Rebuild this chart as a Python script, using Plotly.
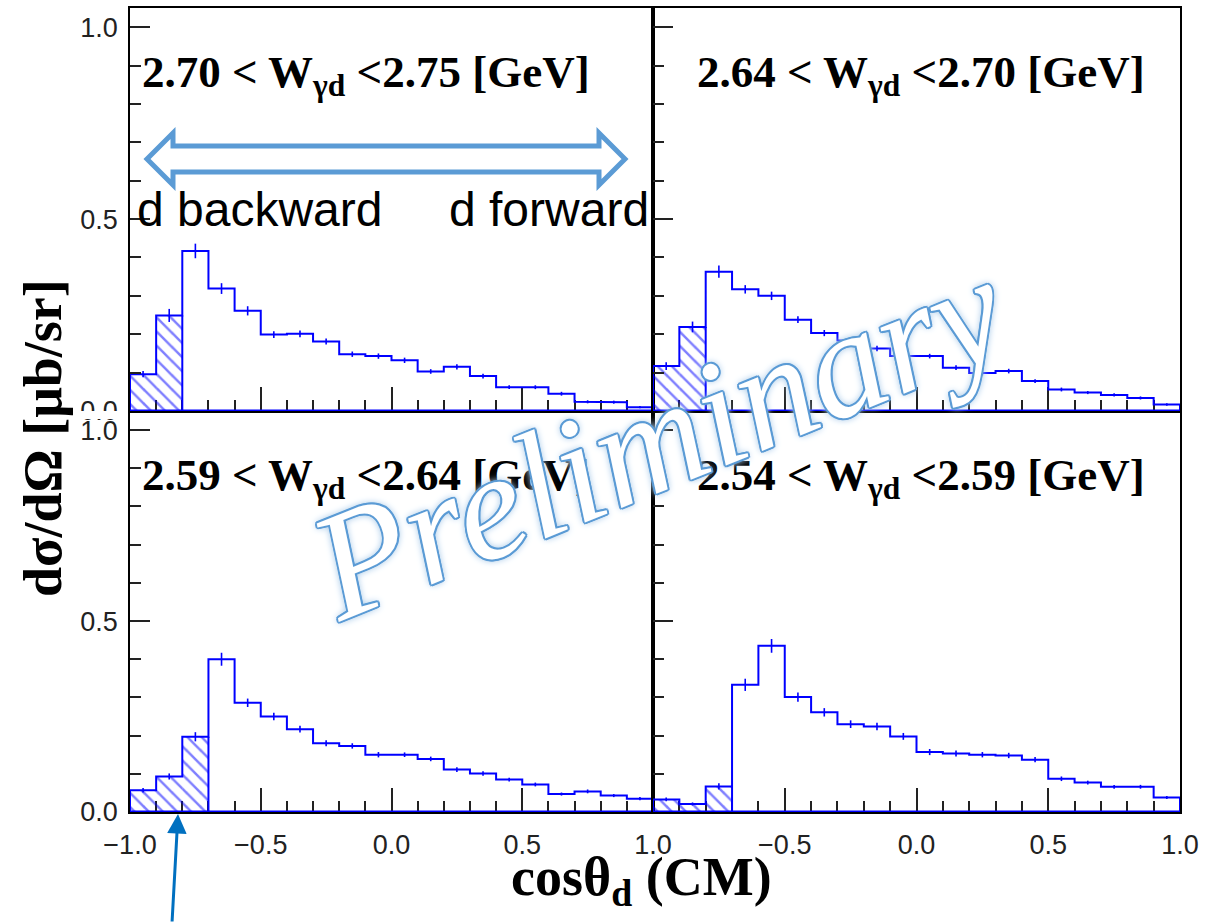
import numpy as np
import plotly.graph_objects as go
from plotly.subplots import make_subplots

# ---------------- data ----------------
bin_edges = np.round(np.linspace(-1.0, 1.0, 21), 2)   # cos(theta_d) bins, width 0.1
bin_centers = np.round((bin_edges[:-1] + bin_edges[1:]) / 2, 3)

panel_labels = ["2.70 < W<sub>γd</sub> <2.75 [GeV]",
                "2.64 < W<sub>γd</sub> <2.70 [GeV]",
                "2.59 < W<sub>γd</sub> <2.64 [GeV]",
                "2.54 < W<sub>γd</sub> <2.59 [GeV]"]

w270_275 = [0.096, 0.249, 0.417, 0.319, 0.261, 0.199, 0.201, 0.181, 0.148, 0.143,
            0.132, 0.103, 0.115, 0.091, 0.062, 0.062, 0.045, 0.024, 0.023, 0.010]
w270_275_err = [0.008, 0.017, 0.019, 0.014, 0.012, 0.009, 0.009, 0.008, 0.007, 0.007,
                0.007, 0.006, 0.007, 0.006, 0.005, 0.005, 0.005, 0.004, 0.004, 0.003]

w264_270 = [0.117, 0.219, 0.363, 0.317, 0.300, 0.238, 0.203, 0.184, 0.163, 0.143,
            0.143, 0.113, 0.099, 0.104, 0.078, 0.056, 0.048, 0.042, 0.034, 0.017]
w264_270_err = [0.010, 0.014, 0.016, 0.011, 0.011, 0.009, 0.008, 0.007, 0.007, 0.006,
                0.006, 0.006, 0.006, 0.006, 0.005, 0.005, 0.004, 0.004, 0.004, 0.003]

w259_264 = [0.057, 0.093, 0.197, 0.400, 0.286, 0.250, 0.217, 0.180, 0.173, 0.150,
            0.150, 0.139, 0.111, 0.101, 0.085, 0.072, 0.047, 0.054, 0.043, 0.035]
w259_264_err = [0.006, 0.008, 0.012, 0.017, 0.011, 0.010, 0.009, 0.008, 0.007, 0.007,
                0.006, 0.006, 0.006, 0.006, 0.005, 0.005, 0.004, 0.005, 0.004, 0.004]

w254_259 = [0.033, 0.021, 0.067, 0.333, 0.435, 0.301, 0.261, 0.230, 0.224, 0.198,
            0.157, 0.153, 0.150, 0.148, 0.137, 0.087, 0.077, 0.066, 0.066, 0.038]
w254_259_err = [0.005, 0.004, 0.008, 0.016, 0.018, 0.012, 0.011, 0.010, 0.010, 0.009,
                0.008, 0.008, 0.007, 0.007, 0.007, 0.006, 0.005, 0.005, 0.005, 0.004]

n_hatched = [2, 2, 3, 3]   # backward bins drawn hatched

panels = [(1, 1, w270_275, w270_275_err),
          (1, 2, w264_270, w264_270_err),
          (2, 1, w259_264, w259_264_err),
          (2, 2, w254_259, w254_259_err)]

x_tickvals = [-1.0, -0.5, 0.0, 0.5, 1.0]
x_ticktext = ["\u22121.0", "\u22120.5", "0.0", "0.5", "1.0"]
y_tickvals = [0.0, 0.5, 1.0]
y_ticktext = ["0.0", "0.5", "1.0"]

# ---------------- figure ----------------
W, H = 1205, 923
fig = make_subplots(rows=2, cols=2, horizontal_spacing=0, vertical_spacing=0)

BLUE = "#0000ff"
for k, (r, c, vals, errs) in enumerate(panels):
    n = n_hatched[k]
    fig.add_trace(go.Bar(x=bin_centers[:n], y=vals[:n], width=0.1,
                         marker=dict(color="rgba(255,255,255,0)", line=dict(width=0),
                                     pattern=dict(shape="\\", fgcolor=BLUE,
                                                  bgcolor="rgba(255,255,255,0)",
                                                  size=10, solidity=0.25)),
                         showlegend=False, hoverinfo="skip"), row=r, col=c)
    sx, sy = [bin_edges[0]], [0.0]
    for i, v in enumerate(vals):
        sx += [bin_edges[i], bin_edges[i + 1]]
        sy += [v, v]
    sx += [bin_edges[-1], bin_edges[0]]
    sy += [0.0, 0.0]
    fig.add_trace(go.Scatter(x=sx, y=sy, mode="lines", line=dict(color=BLUE, width=2),
                             showlegend=False, hoverinfo="skip"), row=r, col=c)
    fig.add_trace(go.Scatter(x=[bin_edges[n], bin_edges[n]], y=[0, vals[n - 1]], mode="lines",
                             line=dict(color=BLUE, width=2),
                             showlegend=False, hoverinfo="skip"), row=r, col=c)
    fig.add_trace(go.Scatter(x=[bin_edges[0], bin_edges[-1]], y=[0, 0], mode="lines",
                             line=dict(color=BLUE, width=3),
                             showlegend=False, hoverinfo="skip"), row=r, col=c)
    fig.add_trace(go.Scatter(x=bin_centers, y=vals, mode="markers",
                             marker=dict(size=1, color=BLUE),
                             error_y=dict(type="data", array=errs, visible=True,
                                          color=BLUE, thickness=1.6, width=0),
                             showlegend=False, hoverinfo="skip"), row=r, col=c)

px2x = lambda p: p / W
px2y = lambda p: 1 - p / H
xdom = [[px2x(130), px2x(653)], [px2x(653), px2x(1180)]]
ydom = [[px2y(411), px2y(8)], [px2y(812), px2y(411)]]

tickfont = dict(family="Liberation Sans, Arial, sans-serif", size=27, color="#222")
for r in (1, 2):
    for c in (1, 2):
        fig.update_xaxes(row=r, col=c, domain=xdom[c - 1], range=[-1.0, 1.0], automargin=False,
                         layer="below traces",
                         showline=True, linecolor="black", linewidth=1.5, mirror=(r == 1),
                         tickmode="array", tickvals=x_tickvals,
                         ticktext=(x_ticktext if c == 1 else [""] + x_ticktext[1:]),
                         ticks="inside", ticklen=24, tickwidth=1.5, tickcolor="#222",
                         minor=dict(ticks="inside", ticklen=11, dtick=0.1, tick0=-1.0),
                         showticklabels=(r == 2), tickfont=tickfont, ticklabelstandoff=8,
                         showgrid=False, zeroline=False, fixedrange=True)
        fig.update_yaxes(row=r, col=c, domain=ydom[r - 1], range=[0, 1.05], automargin=False,
                         showline=True, linecolor="black", linewidth=1.5, mirror=True,
                         tickmode="array", tickvals=y_tickvals, ticktext=y_ticktext,
                         ticks="inside", ticklen=20, tickwidth=1.5, tickcolor="#222",
                         minor=dict(ticks="inside", ticklen=11, dtick=0.1, tick0=0.0),
                         showticklabels=(c == 1), tickfont=tickfont, ticklabelstandoff=5,
                         showgrid=False, zeroline=False, fixedrange=True)

annotations = []
title_font = dict(family="Liberation Serif, Times New Roman, serif", size=45,
                  color="black", weight="bold")
title_pos = [(140, 45), (695, 45), (140, 448), (695, 448)]
for lab, (px, py) in zip(panel_labels, title_pos):
    annotations.append(dict(text=lab, x=px2x(px), y=px2y(py), xref="paper", yref="paper",
                            xanchor="left", yanchor="top", showarrow=False, font=title_font))

dir_font = dict(family="Liberation Sans, Arial, sans-serif", size=48, color="black")
annotations.append(dict(text="d backward", x=px2x(135), y=px2y(209), xref="paper", yref="paper",
                        xanchor="left", yanchor="middle", showarrow=False, font=dir_font))
annotations.append(dict(text="d forward", x=px2x(447), y=px2y(209), xref="paper", yref="paper",
                        xanchor="left", yanchor="middle", showarrow=False, font=dir_font))

annotations.append(dict(text="dσ/dΩ [μb/sr]", x=px2x(43), y=px2y(438), xref="paper", yref="paper",
                        xanchor="center", yanchor="middle", textangle=-90, showarrow=False,
                        font=dict(family="Liberation Serif, Times New Roman, serif", size=54,
                                  color="black", weight="bold")))
annotations.append(dict(text="cosθ<sub>d</sub> (CM)", x=px2x(641), y=px2y(880), xref="paper",
                        yref="paper", xanchor="center", yanchor="middle", showarrow=False,
                        font=dict(family="Liberation Serif, Times New Roman, serif", size=54,
                                  color="black", weight="bold")))

annotations.append(dict(text="", x=px2x(178), y=px2y(814), xref="paper", yref="paper",
                        ax=-6, ay=110, showarrow=True, arrowhead=2, arrowsize=1.3,
                        arrowwidth=3, arrowcolor="#0070C0"))

edge = "#5B9BD5"
shadow = ", ".join([f"{dx}px {dy}px 0 {edge}" for dx, dy in
                    [(-1.5, -1.5), (1.5, -1.5), (-1.5, 1.5), (1.5, 1.5),
                     (0, -2), (0, 2), (-2, 0), (2, 0)]] + ["0 0 7px #9DC3E6", "0 0 10px #BDD7EE"])
annotations.append(dict(text="Preliminary", x=px2x(658), y=px2y(438), xref="paper", yref="paper",
                        xanchor="center", yanchor="middle", textangle=-22, showarrow=False,
                        font=dict(family="Liberation Serif, Times New Roman, serif", size=152,
                                  color="white", style="italic", shadow=shadow)))

pts = [(147, 159), (173, 133), (173, 146), (599, 146), (599, 133), (625, 159),
       (599, 185), (599, 172), (173, 172), (173, 185)]
path = "M " + " L ".join(f"{px2x(a):.5f},{px2y(b):.5f}" for a, b in pts) + " Z"
shapes = [dict(type="path", path=path, xref="paper", yref="paper",
               line=dict(color="#5B9BD5", width=5), fillcolor="rgba(0,0,0,0)", layer="above"),
          dict(type="rect", xref="paper", yref="paper", x0=px2x(60), x1=px2x(126),
               y0=px2y(419), y1=px2y(411), fillcolor="white", line=dict(width=0), layer="above")]

fig.update_layout(width=W, height=H, margin=dict(l=0, r=0, t=0, b=0, autoexpand=False),
                  paper_bgcolor="white", plot_bgcolor="white", barmode="overlay",
                  annotations=annotations, shapes=shapes, showlegend=False)

fig.write_html("out.html", config={"displayModeBar": False},
               post_script="document.body.style.margin='0';"
                           "document.body.style.overflow='hidden';"
                           "document.documentElement.style.overflow='hidden';")
